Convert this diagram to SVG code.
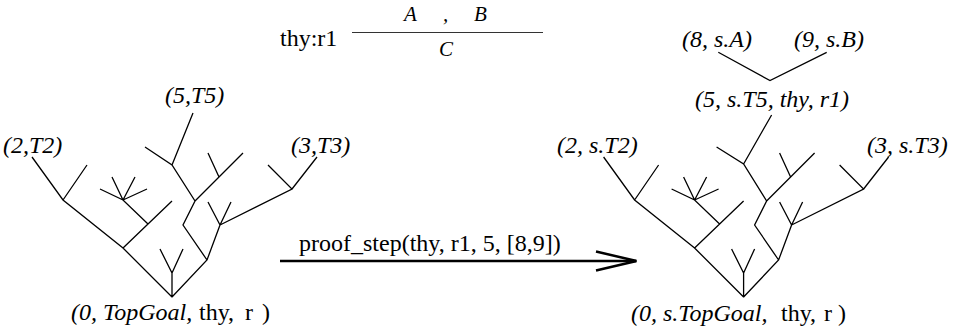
<svg xmlns="http://www.w3.org/2000/svg" width="960" height="334" viewBox="0 0 960 334">
<style>
.br{fill:none;stroke:#000;stroke-width:1.3;stroke-linejoin:miter;stroke-linecap:butt}
text{font-family:'Liberation Serif','Times New Roman',serif;font-size:24px;fill:#000}
.i{font-style:italic}
.s{font-size:21px}
</style>
<rect width="960" height="334" fill="#fff"/>
<g id="rule">
<text x="280" y="46">thy:r1</text>
<line x1="352" y1="32.5" x2="543" y2="32.5" stroke="#333" stroke-width="1.2"/>
<text class="i s" x="404" y="21">A</text>
<text class="i s" x="443" y="21">,</text>
<text class="i s" x="474" y="21">B</text>
<text class="i s" x="439" y="56">C</text>
</g>
<g id="left-tree">
<path class="br" d="M172,297 L172,273 M160,249 L172,273 L183,249 M172,297 L123,248 L63,200 L32,157 M63,200 L87,165 M123,248 L148,224 L172,201 M148,224 L123,200 L100,189 M123,200 L112,177 M123,200 L135,177 M123,200 L147,189 M172,297 L207,260 L220,225 L208,202 M220,225 L231,202 M220,225 L292,189 L268,165 M292,189 L317,157 M207,260 L183,225 L195,201 L172,165 L145,147 M172,165 L193,113 M195,201 L243,153 M219,177 L208,153"/>
<text class="i" x="3" y="153">(2,T2)</text>
<text class="i" x="165" y="103">(5,T5)</text>
<text class="i" x="291" y="153">(3,T3)</text>
<text y="320"><tspan class="i" x="71">(0, TopGoal,</tspan><tspan x="199">thy,</tspan><tspan x="245">r</tspan><tspan x="262">)</tspan></text>
</g>
<g id="connectors">
<text x="299" y="251">proof_step(thy, r1, 5, [8,9])</text>
<line x1="280" y1="261" x2="636" y2="261" stroke="#000" stroke-width="2.5"/>
<path d="M596,251.5 L636.5,261 L596,270.5" fill="none" stroke="#000" stroke-width="2.5"/>
</g>
<g id="right-tree">
<g transform="translate(571.6,0)">
<path class="br" d="M172,297 L172,273 M160,249 L172,273 L183,249 M172,297 L123,248 L63,200 L32,157 M63,200 L87,165 M123,248 L148,224 L172,201 M148,224 L123,200 L100,189 M123,200 L112,177 M123,200 L135,177 M123,200 L147,189 M172,297 L207,260 L220,225 L208,202 M220,225 L231,202 M220,225 L292,189 L268,165 M292,189 L317,157 M207,260 L183,225 L195,201 L172,164 L145,147 M172,164 L200,115 M195,201 L243,153 M219,177 L208,153"/>
</g>
<path class="br" d="M718.3,52.3 L770,80.5 L826.7,52.3"/>
<text class="i" x="682" y="47">(8, s.A)</text>
<text class="i" x="794" y="47">(9, s.B)</text>
<text class="i" x="695" y="107">(5, s.T5, thy, r1)</text>
<text class="i" x="557" y="153">(2, s.T2)</text>
<text class="i" x="867" y="153">(3, s.T3)</text>
<text y="321"><tspan class="i" x="631">(0, s.TopGoal,</tspan><tspan x="781">thy,</tspan><tspan x="824">r</tspan><tspan x="838">)</tspan></text>
</g>
</svg>
